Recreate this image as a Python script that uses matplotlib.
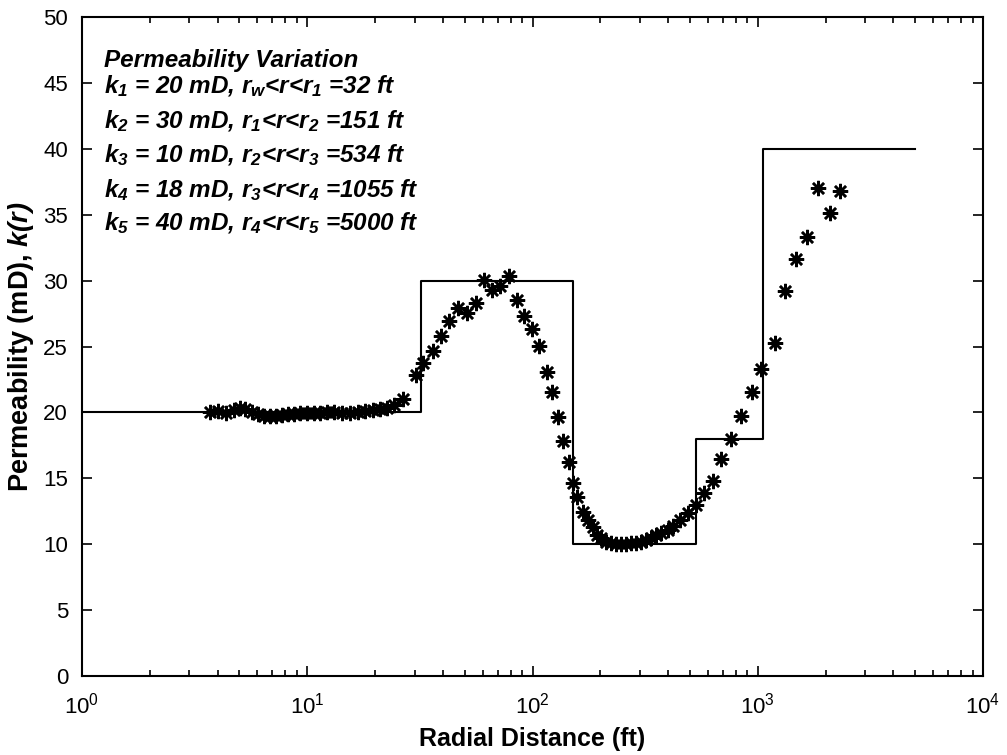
import numpy as np
import matplotlib
matplotlib.use("Agg")
import matplotlib.pyplot as plt

plt.rcParams['font.family'] = ['Liberation Sans', 'DejaVu Sans']
plt.rcParams['mathtext.fontset'] = 'custom'
plt.rcParams['mathtext.rm'] = 'Liberation Sans:bold:italic'
plt.rcParams['mathtext.it'] = 'Liberation Sans:bold:italic'
plt.rcParams['mathtext.bf'] = 'Liberation Sans:bold:italic'

# step profile (true permeability)
step_r = [1, 32, 32, 151, 151, 534, 534, 1055, 1055, 5000]
step_k = [20, 20, 30, 30, 10, 10, 18, 18, 40, 40]

# estimated permeability (asterisks)
est_r = [3.70, 4.01, 4.35, 4.72, 5.02, 5.28, 5.67, 6.03, 6.41, 6.82, 7.25, 7.71,
         8.19, 8.71, 9.26, 9.95, 10.69, 11.36, 12.21, 13.11, 14.22, 15.44, 16.75,
         17.99, 19.52, 20.97, 22.52, 24.19, 26.51,
         30.28, 32.76, 36.02, 39.21, 42.55, 46.50, 50.97, 55.87, 61.06, 65.80,
         71.92, 78.27, 84.92, 91.89, 99.70, 107.1, 115.4, 122.3, 130.0, 136.8,
         145.5, 151.6, 158.3, 167.8, 176.6, 185.8, 194.2, 202.3, 212.9, 224.0,
         235.8, 248.2, 261.2, 274.8, 289.2, 304.4, 320.3, 337.1, 354.8, 373.4,
         399.8, 420.7, 450.0, 490.2, 533.8, 577.4, 632.9, 688.7, 762.9, 845.2,
         942.6, 1036.3, 1187, 1324, 1471, 1658, 1849, 2097, 2329]
est_k = [20.03, 20.10, 19.95, 20.18, 20.33, 20.26, 20.03, 19.88, 19.73, 19.73,
         19.73, 19.80, 19.88, 19.88, 19.95, 19.95, 19.95, 19.95, 20.03, 20.03,
         19.95, 19.95, 20.03, 20.10, 20.18, 20.26, 20.33, 20.56, 21.02,
         22.84, 23.75, 24.68, 25.80, 26.96, 27.92, 27.54, 28.30, 30.05, 29.29,
         29.59, 30.35, 28.53, 27.31, 26.33, 25.04, 23.09, 21.57, 19.63, 17.85,
         16.26, 14.67, 13.56, 12.47, 11.84, 11.33, 10.70, 10.45, 10.19, 10.11,
         10.02, 10.02, 10.02, 10.07, 10.11, 10.19, 10.32, 10.45, 10.70, 10.87,
         11.08, 11.38, 11.84, 12.34, 12.97, 13.91, 14.82, 16.44, 17.96, 19.73,
         21.57, 23.27, 25.29, 29.23, 31.62, 33.33, 37.00, 35.15, 36.82]

legend_lines = [
    "Permeability Variation",
    "$k_1$ = 20 mD, $r_w$<r<$r_1$ =32 ft",
    "$k_2$ = 30 mD, $r_1$<r<$r_2$ =151 ft",
    "$k_3$ = 10 mD, $r_2$<r<$r_3$ =534 ft",
    "$k_4$ = 18 mD, $r_3$<r<$r_4$ =1055 ft",
    "$k_5$ = 40 mD, $r_4$<r<$r_5$ =5000 ft",
]
legend_y = [0.9245, 0.8847, 0.8316, 0.780, 0.727, 0.677]

fig = plt.figure(figsize=(10.07, 7.55), dpi=100)
ax = fig.add_axes([0.0814, 0.1046, 0.8948, 0.8729])

ax.plot(step_r, step_k, color='black', lw=1.5)
ax.plot(est_r, est_k, ls='none', marker=(8, 2, 0), ms=11, mew=1.8,
        color='black')

ax.set_xscale('log')
ax.set_xlim(1, 1e4)
ax.set_ylim(0, 50)
ax.set_yticks(np.arange(0, 51, 5))

ax.tick_params(which='both', direction='in', top=True, right=True,
               labelsize=16, width=1.2)
ax.tick_params(which='major', length=7)
ax.tick_params(which='minor', length=4)
ax.tick_params(axis='y', pad=10)
ax.tick_params(axis='x', pad=12)
for s in ax.spines.values():
    s.set_linewidth(1.5)

ax.set_xlabel("Radial Distance (ft)", fontsize=18, fontweight='bold', labelpad=6)
ax.set_ylabel("Permeability (mD), $k(r)$", fontsize=19.5, fontweight='bold',
              labelpad=5)

for txt, yy in zip(legend_lines, legend_y):
    ax.text(0.0244, yy, txt, transform=ax.transAxes, fontsize=17.5,
            fontweight='bold', style='italic', va='baseline', ha='left')

fig.savefig("out.png", dpi=100)
